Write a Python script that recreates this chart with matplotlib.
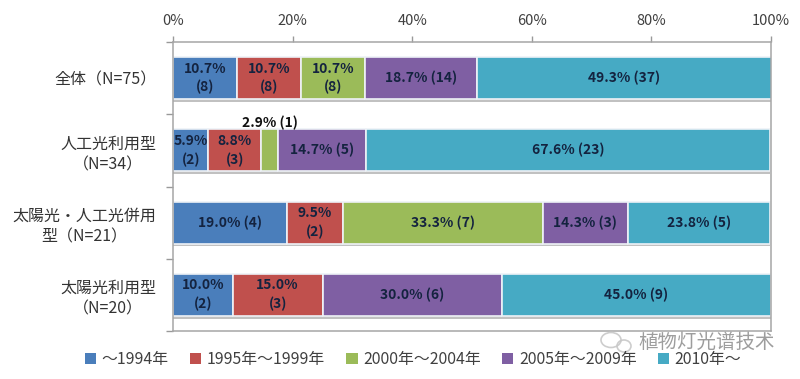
import matplotlib
matplotlib.use('Agg')
import numpy as np
import matplotlib.pyplot as plt
import matplotlib.patheffects as pe
from matplotlib.patches import Patch, Ellipse

plt.rcParams['font.family'] = ['Noto Sans CJK JP', 'DejaVu Sans']

categories = ['全体（N=75）', '人工光利用型\n（N=34）', '太陽光・人工光併用\n型（N=21）', '太陽光利用型\n（N=20）']
series_names = ['～1994年', '1995年～1999年', '2000年～2004年', '2005年～2009年', '2010年～']
colors = ['#4a7ebb', '#c0504d', '#9bbb59', '#7f5fa3', '#46aac4']

until_1994 = [10.7, 5.9, 19.0, 10.0]
y1995_1999 = [10.7, 8.8, 9.5, 15.0]
y2000_2004 = [10.7, 2.9, 33.3, 0]
y2005_2009 = [18.7, 14.7, 14.3, 30.0]
since_2010 = [49.3, 67.6, 23.8, 45.0]

labels_1994 = ['10.7%\n(8)', '5.9%\n(2)', '19.0% (4)', '10.0%\n(2)']
labels_1995 = ['10.7%\n(8)', '8.8%\n(3)', '9.5%\n(2)', '15.0%\n(3)']
labels_2000 = ['10.7%\n(8)', '2.9% (1)', '33.3% (7)', '']
labels_2005 = ['18.7% (14)', '14.7% (5)', '14.3% (3)', '30.0% (6)']
labels_2010 = ['49.3% (37)', '67.6% (23)', '23.8% (5)', '45.0% (9)']

all_values = [until_1994, y1995_1999, y2000_2004, y2005_2009, since_2010]
all_labels = [labels_1994, labels_1995, labels_2000, labels_2005, labels_2010]

fig = plt.figure(figsize=(8, 3.79), dpi=100)
ax = fig.add_axes([173 / 800, 1 - 331 / 379, 598 / 800, 289 / 379])

y = np.arange(len(categories))
left = np.zeros(len(categories))
shadow = [pe.SimplePatchShadow(offset=(0, -2), shadow_rgbFace='#999999', alpha=0.6), pe.Normal()]
for vals, labs, name, col in zip(all_values, all_labels, series_names, colors):
    vals = np.array(vals)
    bars = ax.barh(y, vals, left=left, height=0.58, color=col, edgecolor='#eef2f7',
                   linewidth=1.2, zorder=2)
    for b in bars:
        b.set_path_effects(shadow)
    for i, lab in enumerate(labs):
        if lab == '':
            continue
        cy = y[i]
        # the narrow green segment has its label above the bar
        if vals[i] < 5:
            cy = y[i] - 0.38
            tc = '#111111'
        else:
            tc = '#14233f'
        ax.text(left[i] + vals[i] / 2, cy, lab, ha='center', va='center', fontsize=10,
                fontweight='bold', color=tc, linespacing=1.4, zorder=3)
    left = left + vals

ax.set_xlim(0, 100)
ax.set_ylim(3.5, -0.5)
ax.xaxis.tick_top()
ax.set_xticks(np.arange(0, 101, 20))
ax.set_xticklabels([f'{t}%' for t in range(0, 101, 20)], fontsize=10.5, color='#404040')
ax.tick_params(axis='x', length=4, color='#999999', width=1, pad=6)

ax.set_yticks(np.arange(-0.5, 4, 1))
ax.set_yticklabels([])
ax.tick_params(axis='y', which='major', length=5, color='#999999', width=1)
ax.set_yticks(y, minor=True)
ax.set_yticklabels(categories, minor=True, fontsize=11.5, color='#333333',
                   ha='right', multialignment='center', linespacing=1.3)
ax.tick_params(axis='y', which='minor', length=0, pad=12)
for s in ax.spines.values():
    s.set_color('#a6a6a6')
    s.set_linewidth(1.1)

handles = [Patch(facecolor=c, edgecolor='none', label=n) for c, n in zip(colors, series_names)]
fig.legend(handles=handles, loc='lower left', bbox_to_anchor=(74 / 800, 0), ncol=5, frameon=False,
           fontsize=11.4, handlelength=0.7, handleheight=0.7, handletextpad=0.35, columnspacing=1.35,
           labelcolor='#404040', borderpad=0.2)

# watermark
fig.text(775 / 800, 1 - 342 / 379, '植物灯光谱技术', ha='right', va='center', fontsize=14,
         color='#8c8c8c', alpha=0.85)
for cx, cy, w, h in [(611, 340, 20, 15), (624, 346, 14, 12)]:
    fig.add_artist(Ellipse((cx / 800, 1 - cy / 379), w / 800, h / 379, transform=fig.transFigure,
                           facecolor='none', edgecolor='#c8c8c8', linewidth=1.2, alpha=0.9))

fig.savefig('out.png', dpi=100)
